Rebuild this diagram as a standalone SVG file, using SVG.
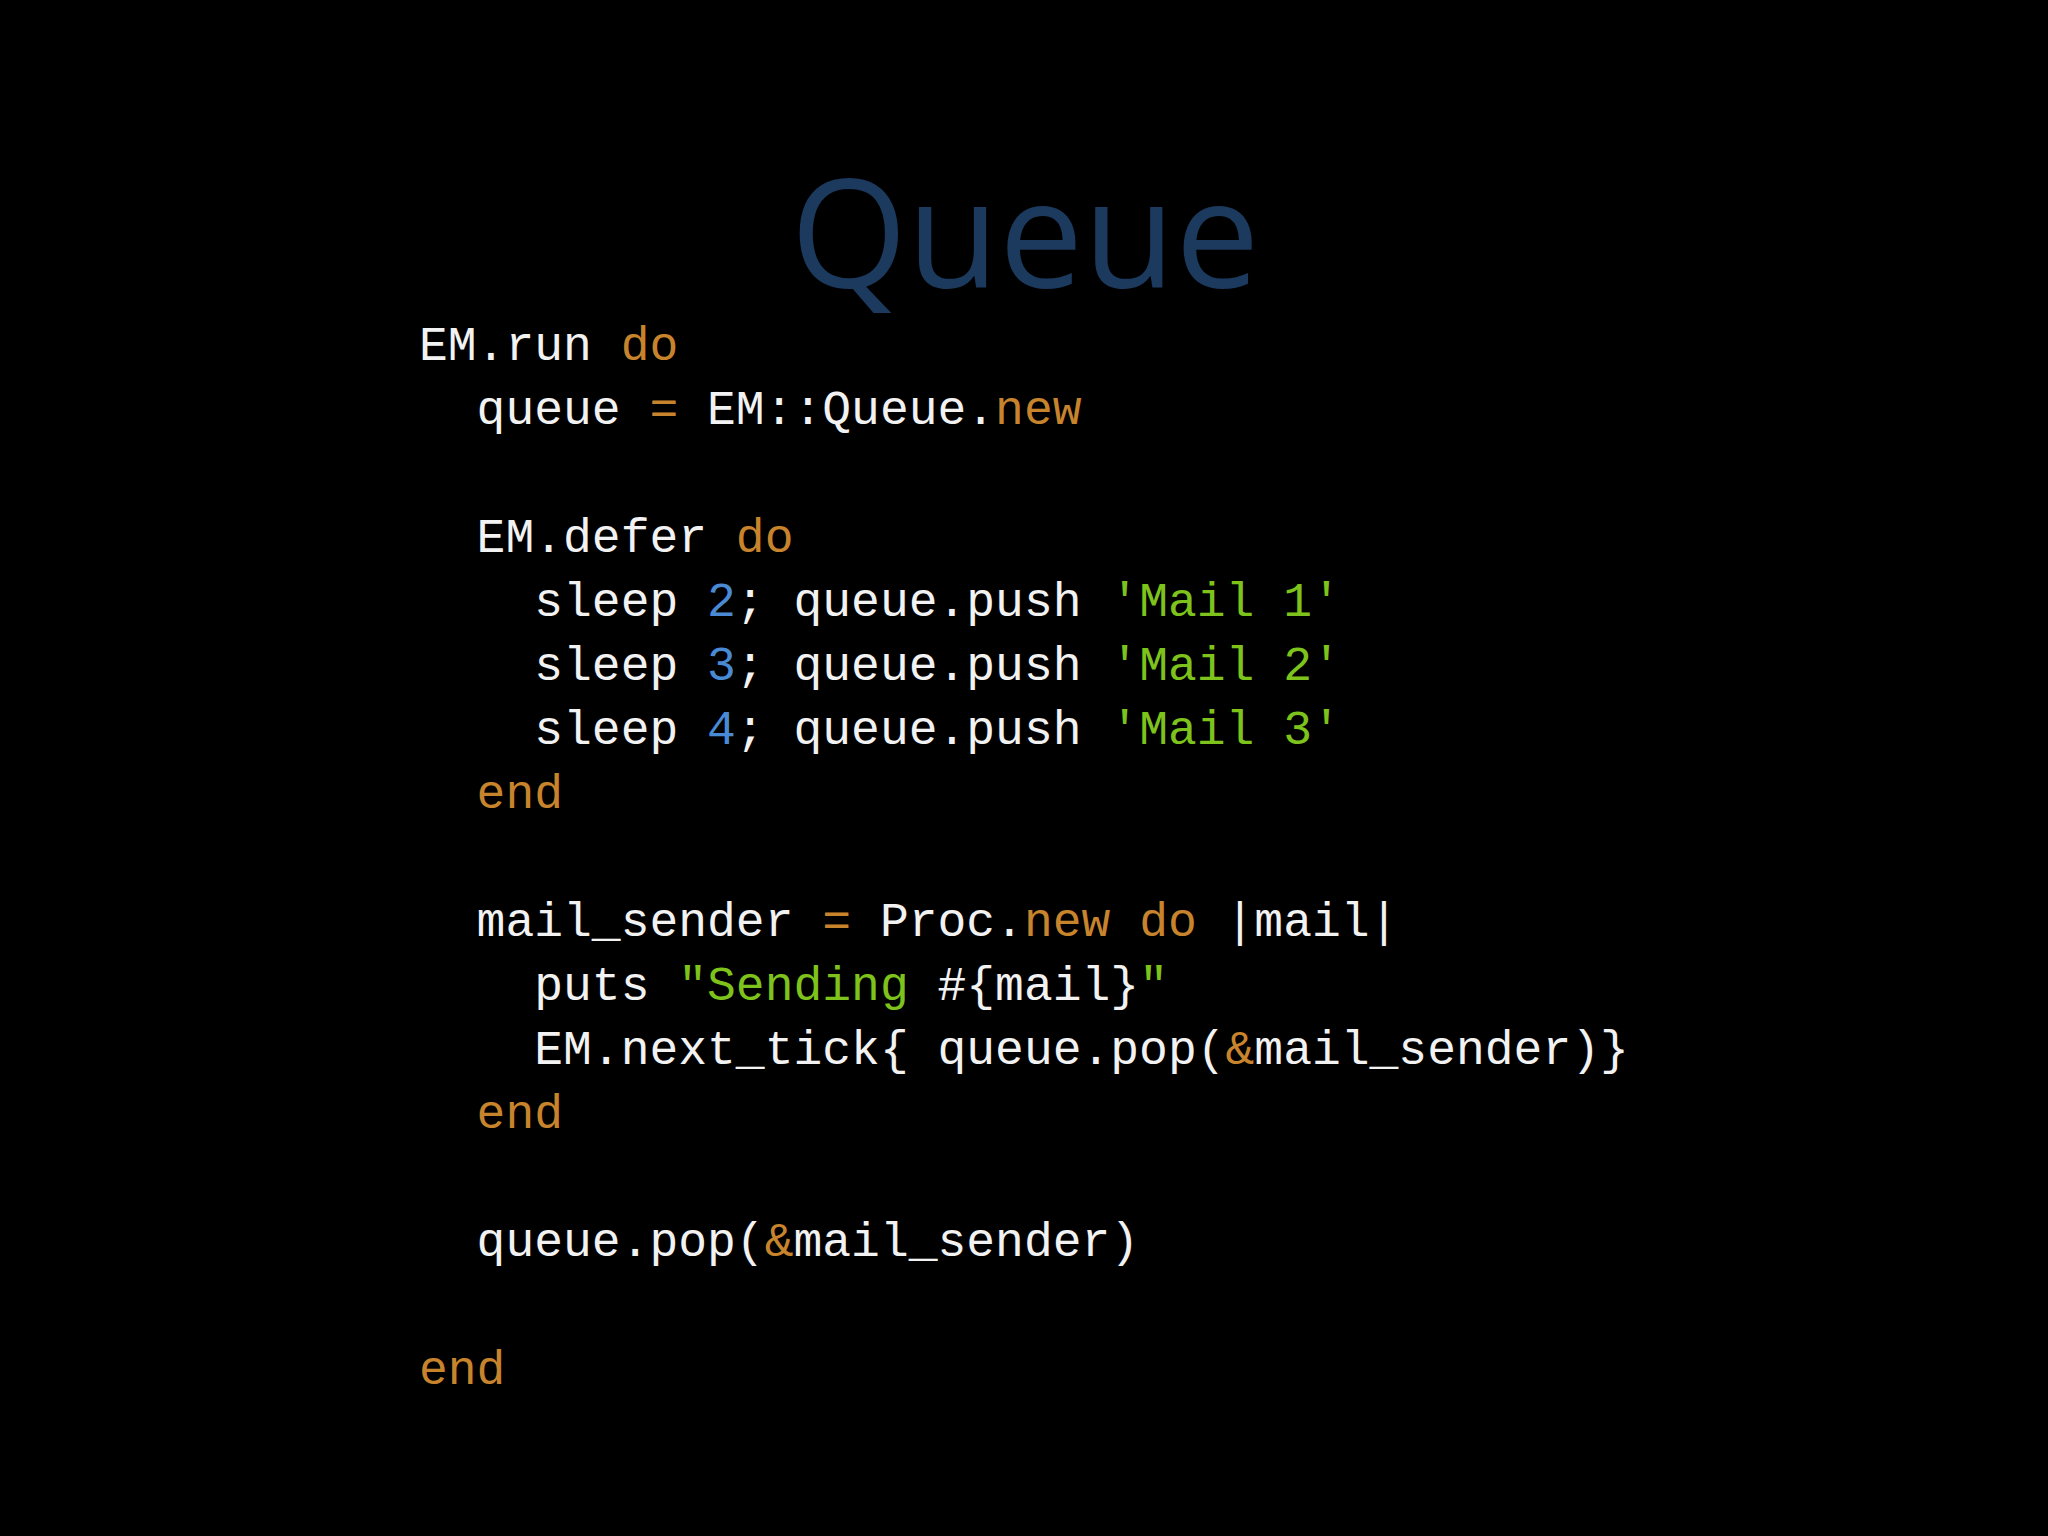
<svg xmlns="http://www.w3.org/2000/svg" width="2048" height="1536" viewBox="0 0 2048 1536">
<style>
.c{font-family:"Liberation Mono","DejaVu Sans Mono",monospace;font-size:48px;fill:#f2f2f2;white-space:pre}
.k{fill:#c8842c}.s{fill:#7ec21c}.n{fill:#4a8ad4}
</style>
<rect width="2048" height="1536" fill="#000"/>
<g id="title"><text x="1025" y="288" text-anchor="middle" font-family="Open Sans, Lato, sans-serif" font-size="150" fill="#1b3a5e">Queue</text></g>
<g id="code" class="c" xml:space="preserve" transform="translate(0,-3)">
<text class="c" x="419" y="363">EM.run <tspan class="k">do</tspan></text>
<text class="c" x="419" y="427">  queue <tspan class="k">=</tspan> EM::Queue.<tspan class="k">new</tspan></text>
<text class="c" x="419" y="555">  EM.defer <tspan class="k">do</tspan></text>
<text class="c" x="419" y="619">    sleep <tspan class="n">2</tspan>; queue.push <tspan class="s">'Mail 1'</tspan></text>
<text class="c" x="419" y="683">    sleep <tspan class="n">3</tspan>; queue.push <tspan class="s">'Mail 2'</tspan></text>
<text class="c" x="419" y="747">    sleep <tspan class="n">4</tspan>; queue.push <tspan class="s">'Mail 3'</tspan></text>
<text class="c" x="419" y="811">  <tspan class="k">end</tspan></text>
<text class="c" x="419" y="939">  mail_sender <tspan class="k">=</tspan> Proc.<tspan class="k">new</tspan> <tspan class="k">do</tspan> |mail|</text>
<text class="c" x="419" y="1003">    puts <tspan class="s">"Sending </tspan>#{mail}<tspan class="s">"</tspan></text>
<text class="c" x="419" y="1067">    EM.next_tick{ queue.pop(<tspan class="k">&amp;</tspan>mail_sender)}</text>
<text class="c" x="419" y="1131">  <tspan class="k">end</tspan></text>
<text class="c" x="419" y="1259">  queue.pop(<tspan class="k">&amp;</tspan>mail_sender)</text>
<text class="c" x="419" y="1387"><tspan class="k">end</tspan></text>
</g>
</svg>
